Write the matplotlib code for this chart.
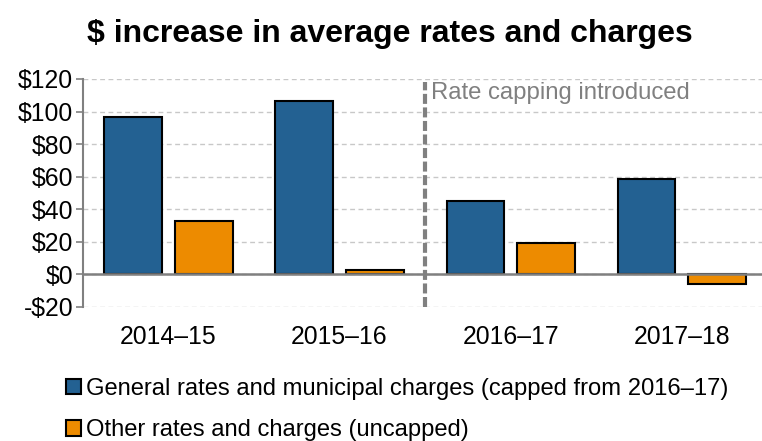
import matplotlib
matplotlib.use("Agg")
import matplotlib.pyplot as plt
import numpy as np

plt.rcParams['font.family'] = ['Liberation Sans', 'DejaVu Sans']

categories = ["2014–15", "2015–16", "2016–17", "2017–18"]
general = [96.5, 106.7, 45.0, 58.7]
other = [32.6, 2.5, 19.0, -5.7]
series_labels = ["General rates and municipal charges (capped from 2016–17)",
                 "Other rates and charges (uncapped)"]
yticks = [-20, 0, 20, 40, 60, 80, 100, 120]
ytick_labels = ["-$20", "$0", "$20", "$40", "$60", "$80", "$100", "$120"]

BLUE = "#236192"
ORANGE = "#ED8B00"
GRAY = "#808080"

fig = plt.figure(figsize=(7.62, 4.41), dpi=100)
ax = fig.add_axes([83/762, 1-307/441, (762-83)/762, (307-79)/441])

x = np.arange(len(categories))
w = 0.335
off = 0.207
ax.bar(x - off, general, w, color=BLUE, edgecolor="black", linewidth=1.5,
       label=series_labels[0], zorder=3)
ax.bar(x + off, other, w, color=ORANGE, edgecolor="black", linewidth=1.5,
       label=series_labels[1], zorder=3)

ax.set_xlim(-0.5, 3.47)
ax.set_ylim(-20, 120)
ax.set_yticks(yticks)
ax.set_yticklabels(ytick_labels)
ax.set_xticks(x)
ax.set_xticklabels(categories)
ax.tick_params(axis='y', length=5, color=GRAY, width=1.2, labelsize=17.8, pad=2)
ax.tick_params(axis='x', length=0, labelsize=17.8, pad=13)

for s in ['top', 'right', 'bottom']:
    ax.spines[s].set_visible(False)
ax.spines['left'].set_color(GRAY)
ax.spines['left'].set_linewidth(1.5)

ax.yaxis.grid(True, color="#c8c8c8", linestyle=(0, (3.5, 2.5)), linewidth=1.0, zorder=0)
ax.set_axisbelow(True)
ax.axhline(0, color=GRAY, linewidth=1.8, zorder=4)

ax.axvline(1.5, color=GRAY, linewidth=3.0, linestyle=(0, (2.4, 0.85)), ymax=0.985, zorder=5)
ax.text(1.535, 118.3, "Rate capping introduced", color=GRAY, fontsize=17.2,
        ha='left', va='top')

fig.text(390/762, 1-34/441, "$ increase in average rates and charges",
         fontsize=23, fontweight='bold', ha='center', va='center')

leg = fig.legend(loc='upper left', bbox_to_anchor=(66/762, 1-378/441),
                 frameon=False, fontsize=17.1, handlelength=0.64, handleheight=0.62,
                 handletextpad=0.2, labelspacing=0.82, borderpad=0, borderaxespad=0)

fig.savefig("out.png", dpi=100)
